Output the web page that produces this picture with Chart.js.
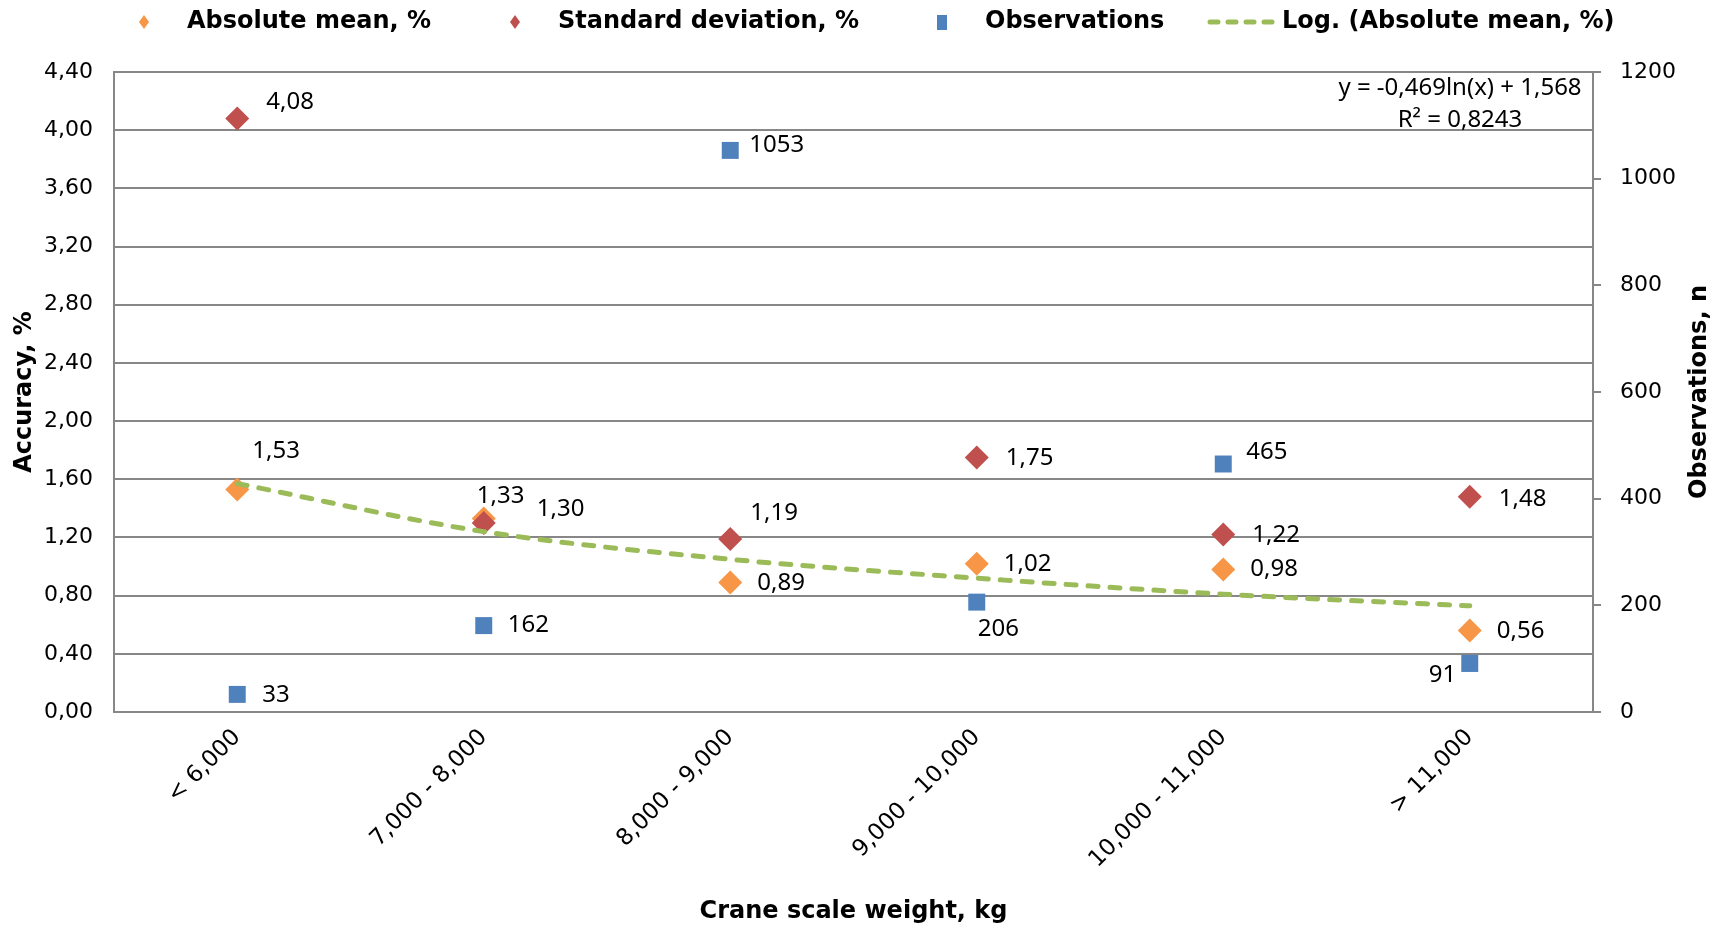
<!DOCTYPE html>
<html>
<head>
<meta charset="utf-8">
<title>Crane scale accuracy</title>
<script src="https://cdn.jsdelivr.net/npm/chart.js@4.4.1/dist/chart.umd.min.js"></script>
<style>
  html, body { margin: 0; padding: 0; background: #fff; }
  canvas { display: block; }
</style>
</head>
<body>
<canvas id="chart" width="1723" height="927"></canvas>
<script>
// weight classes and measured values
const categories = ["< 6,000", "7,000 - 8,000", "8,000 - 9,000", "9,000 - 10,000", "10,000 - 11,000", "> 11,000"];
const absMean = [1.53, 1.33, 0.89, 1.02, 0.98, 0.56];
const stdDev = [4.08, 1.30, 1.19, 1.75, 1.22, 1.48];
const observations = [33, 162, 1053, 206, 465, 91];
const logTrend = [1.57, 1.24, 1.05, 0.92, 0.81, 0.73];
const trendText = ["y = -0,469ln(x) + 1,568", "R² = 0,8243"];

// where each value label sits relative to its marker (dx = left edge, dy = middle)
const meanLabelPos = [[15, -38], [-7, -22], [27, 1], [27, 1], [27, 0], [27, 1]];
const stdLabelPos = [[29, -16], [53, -14], [20, -26], [29, 1], [29, 1], [29, 2]];
const obsLabelPos = [[25, 1], [24, 0], [19, -5], [1, 27], [23, -12], [-41, 12]];

const GRID = "#878787";
const AXIS_FONT = "'DejaVu Sans', Verdana, sans-serif";
const LABEL_FONT = "'Noto Sans', 'Open Sans', sans-serif";

const fmt2 = (v) => v.toFixed(2).replace(".", ",");
const fmtInt = (v) => String(Math.round(v));

// value labels next to the markers, plus the trendline equation
const pointLabels = {
  id: "pointLabels",
  afterDatasetsDraw(chart) {
    const ctx = chart.ctx;
    ctx.save();
    ctx.font = "24px " + LABEL_FONT;
    ctx.fillStyle = "#000";
    ctx.textAlign = "left";
    ctx.textBaseline = "middle";
    chart.data.datasets.forEach((ds, i) => {
      if (!ds.labelPos) return;
      const meta = chart.getDatasetMeta(i);
      meta.data.forEach((pt, j) => {
        const [dx, dy] = ds.labelPos[j];
        const txt = ds.yAxisID === "y1" ? fmtInt(ds.data[j]) : fmt2(ds.data[j]);
        ctx.fillText(txt, pt.x + dx, pt.y + dy);
      });
    });
    const a = chart.chartArea;
    ctx.textAlign = "center";
    ctx.fillText(trendText[0], a.right - 133, a.top + 16);
    ctx.fillText(trendText[1], a.right - 133, a.top + 48);
    ctx.restore();
  }
};

// right axis title, read bottom to top like the left one
const rightTitle = {
  id: "rightTitle",
  afterDraw(chart) {
    const ctx = chart.ctx;
    const a = chart.chartArea;
    ctx.save();
    ctx.translate(1700, (a.top + a.bottom) / 2);
    ctx.rotate(-Math.PI / 2);
    ctx.font = "bold 24px " + AXIS_FONT;
    ctx.fillStyle = "#000";
    ctx.textAlign = "center";
    ctx.textBaseline = "middle";
    ctx.fillText("Observations, n", 0, 0);
    ctx.restore();
  }
};

// legend row across the top
const legendX = [144, 515, 942, 1207];
const topLegend = {
  id: "topLegend",
  afterDraw(chart) {
    const ctx = chart.ctx;
    const y = 22;
    ctx.save();
    ctx.font = "bold 24px " + AXIS_FONT;
    ctx.textBaseline = "middle";
    chart.data.datasets.forEach((ds, i) => {
      const x = legendX[i];
      ctx.fillStyle = ds.backgroundColor;
      if (ds.pointStyle === "rectRot") {
        ctx.beginPath();
        ctx.moveTo(x, y - 7);
        ctx.lineTo(x + 5, y);
        ctx.lineTo(x, y + 7);
        ctx.lineTo(x - 5, y);
        ctx.closePath();
        ctx.fill();
      } else if (ds.pointStyle === "rect") {
        ctx.fillRect(x - 5, y - 7, 10, 15);
      }
      let tx = x + 43;
      if (ds.showLine !== false) {
        ctx.strokeStyle = ds.borderColor;
        ctx.lineWidth = 5;
        ctx.lineCap = "round";
        ctx.setLineDash([8, 10]);
        ctx.beginPath();
        ctx.moveTo(x + 3, y);
        ctx.lineTo(x + 70, y);
        ctx.stroke();
        ctx.setLineDash([]);
        tx = x + 75;
      }
      ctx.fillStyle = "#000";
      ctx.fillText(ds.label, tx, y);
    });
    ctx.restore();
  }
};

const marker = (color) => ({
  backgroundColor: color,
  borderColor: color,
  borderWidth: 0,
  pointRadius: 12,
  pointHoverRadius: 12,
  showLine: false
});

new Chart(document.getElementById("chart"), {
  type: "line",
  data: {
    labels: categories,
    datasets: [
      { label: "Absolute mean, %", data: absMean, yAxisID: "y", pointStyle: "rectRot", order: 4, labelPos: meanLabelPos, ...marker("#F79646") },
      { label: "Standard deviation, %", data: stdDev, yAxisID: "y", pointStyle: "rectRot", order: 3, labelPos: stdLabelPos, ...marker("#C0504D") },
      { label: "Observations", data: observations, yAxisID: "y1", pointStyle: "rect", order: 2, labelPos: obsLabelPos, ...marker("#4F81BD") },
      {
        label: "Log. (Absolute mean, %)", data: logTrend, yAxisID: "y", order: 1,
        borderColor: "#9BBB59", backgroundColor: "#9BBB59", borderWidth: 5,
        borderDash: [10, 12], borderCapStyle: "round",
        pointRadius: 0, pointHoverRadius: 0, cubicInterpolationMode: "monotone"
      }
    ]
  },
  options: {
    responsive: false,
    animation: false,
    events: [],
    layout: { padding: { top: 72, left: 0, right: 0, bottom: 0 } },
    plugins: { legend: { display: false }, tooltip: { enabled: false } },
    scales: {
      x: {
        offset: true,
        grid: { display: false, drawTicks: false },
        border: { display: true, color: GRID, width: 2 },
        ticks: {
          minRotation: 45, maxRotation: 45, padding: 12,
          color: "#000", font: { family: AXIS_FONT, size: 23 }
        },
        title: {
          display: true, text: "Crane scale weight, kg", color: "#000",
          font: { family: AXIS_FONT, size: 24, weight: "bold" },
          padding: { top: 0, bottom: 1 }
        },
        afterFit: (s) => { s.height = 215; }
      },
      y: {
        position: "left",
        min: 0, max: 4.4,
        grid: { color: GRID, lineWidth: 2, drawTicks: false },
        border: { display: true, color: GRID, width: 2 },
        ticks: {
          stepSize: 0.4, padding: 21, color: "#000",
          font: { family: AXIS_FONT, size: 22 },
          callback: (v) => fmt2(v)
        },
        title: {
          display: true, text: "Accuracy, %", color: "#000",
          font: { family: AXIS_FONT, size: 24, weight: "bold" },
          padding: { top: 10, bottom: 0 }
        },
        afterFit: (s) => { s.width = 114; }
      },
      y1: {
        position: "right",
        min: 0, max: 1200,
        grid: { drawOnChartArea: false, drawTicks: true, tickLength: 8, color: GRID, lineWidth: 2 },
        border: { display: true, color: GRID, width: 2 },
        ticks: {
          stepSize: 200, padding: 19, color: "#000",
          font: { family: AXIS_FONT, size: 22 },
          callback: (v) => fmtInt(v)
        },
        title: { display: false },
        afterFit: (s) => { s.width = 130; }
      }
    }
  },
  plugins: [pointLabels, rightTitle, topLegend]
});
</script>
</body>
</html>
